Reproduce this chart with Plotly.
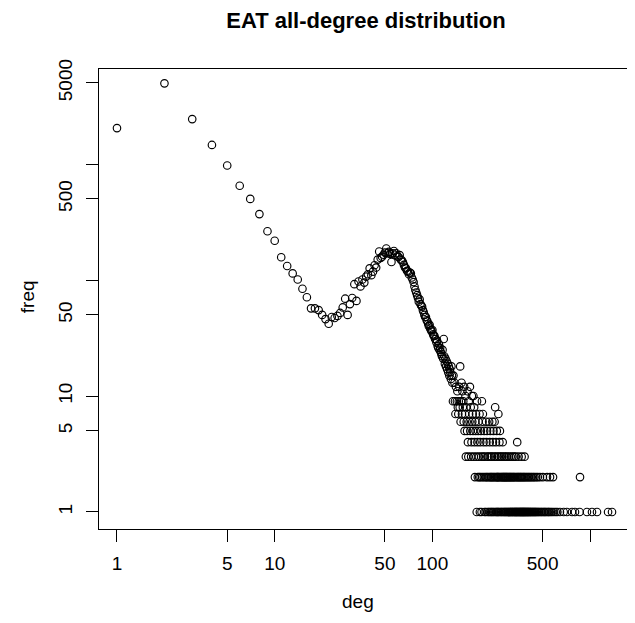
import plotly.graph_objects as go

# ---- data (degree -> frequency) ----
deg_low = list(range(1, 19))
freq_low = [2040, 4960, 2440, 1460, 970, 650, 500, 370, 263, 218,
            157, 132, 114, 101, 84, 71, 57, 57]

deg_mid = list(range(19, 135))
freq_mid = [55, 50, 46, 42, 48, 47, 49, 52, 58, 69,
            50, 62, 70, 92, 66, 97, 88, 101, 95, 107,
            112, 126, 110, 118, 134, 128, 150, 176, 155, 159,
            165, 172, 187, 170, 175, 168, 143, 170, 178, 165,
            170, 160, 158, 164, 150, 148, 143, 135, 128, 126,
            120, 118, 112, 116, 114, 105, 101, 96, 88, 82,
            78, 74, 70, 65, 68, 62, 60, 59, 55, 53,
            50, 48, 48, 45, 44, 42, 40, 41, 38, 37,
            36, 37, 34, 33, 33, 31, 31, 29, 30, 27,
            26, 28, 25, 26, 24, 23, 22, 25, 21, 31,
            22, 19, 21, 18, 20, 17, 19, 16, 18, 15,
            17, 16, 14, 18, 15, 13]

deg_desc = [136, 138, 141, 144, 148, 150, 153, 155, 159, 162, 167, 173, 178, 182]
freq_desc = [15, 13, 12, 11, 12, 18, 13, 11, 12, 10, 11, 12, 10, 10]

deg_f9 = [135, 139, 143, 147, 152, 157, 170, 192, 206]
deg_f8 = [145, 149, 156, 164, 175, 184, 250]
deg_f7 = [140, 146, 154, 161, 171, 180, 189, 199, 209, 262]
deg_f6 = [151, 158, 165, 172, 179, 187, 196, 208, 219, 229, 240, 248]
deg_f5 = [160, 166, 174, 181, 188, 195, 203, 213, 222, 233, 244, 256, 268]
deg_f4 = [168, 177, 185, 193, 201, 211, 220, 231, 242, 253, 266, 279, 345]
deg_f3 = [163, 169, 176, 183, 190, 197, 204, 210, 215, 223, 227, 235, 238,
          246, 251, 258, 264, 271, 276, 284, 290, 297, 305, 313, 322, 330,
          338, 352, 368, 384]
deg_f2 = [186, 194, 198, 202, 207, 212, 217, 221, 225, 230, 234, 237, 241,
          245, 249, 254, 257, 260, 263, 267, 272, 275, 280, 282, 286, 289,
          293, 296, 300, 304, 308, 311, 316, 320, 325, 329, 334, 340, 346,
          350, 356, 361, 366, 372, 378, 383, 390, 397, 404, 411, 419, 427,
          436, 444, 455, 466, 481, 502, 533, 557, 582, 863]
deg_f1 = [191, 200, 205, 214, 218, 224, 228, 232, 236, 239, 243, 247, 252,
          255, 259, 261, 265, 270, 273, 277, 281, 285, 288, 292, 295, 299,
          302, 306, 309, 312, 315, 318, 321, 324, 327, 331, 333, 336, 339,
          342, 344, 348, 351, 354, 357, 360, 363, 365, 369, 371, 374, 377,
          380, 382, 386, 389, 392, 395, 399, 402, 406, 409, 413, 417, 421,
          425, 430, 434, 439, 443, 448, 452, 458, 463, 470, 475, 484, 490,
          497, 506, 512, 520, 527, 538, 545, 552, 564, 575, 590, 605, 620,
          644, 680, 713, 768, 802, 858, 955, 1028, 1106, 1300, 1377]

x_tickvals = [1, 5, 10, 50, 100, 500, 1000]
x_ticktext = ["1", "5", "10", "50", "100", "500", ""]
y_tickvals = [1, 5, 10, 50, 100, 500, 1000, 5000]
y_ticktext = ["1", "5", "10", "50", "", "500", "", "5000"]

# ---- assemble ----
deg = deg_low + deg_mid + deg_desc
freq = freq_low + freq_mid + freq_desc
for level, lst in [(9, deg_f9), (8, deg_f8), (7, deg_f7), (6, deg_f6), (5, deg_f5),
                   (4, deg_f4), (3, deg_f3), (2, deg_f2), (1, deg_f1)]:
    deg += lst
    freq += [level] * len(lst)

FONT = "Liberation Sans, Arial, Helvetica, sans-serif"

fig = go.Figure()
fig.add_trace(go.Scatter(
    x=deg, y=freq, mode="markers",
    marker=dict(symbol="circle-open", size=7.5, color="#000000",
                line=dict(width=1.15, color="#000000")),
    showlegend=False, hoverinfo="x+y"))

axis_common = dict(
    type="log", showgrid=False, zeroline=False,
    showline=True, linecolor="#000000", linewidth=1, mirror=True,
    ticks="outside", ticklen=12, tickwidth=1, tickcolor="#000000",
    tickfont=dict(family=FONT, size=19, color="#000000"),
)

fig.update_xaxes(range=[-0.114, 3.272], tickvals=x_tickvals, ticktext=x_ticktext,
                 ticklabelstandoff=5, **axis_common)
fig.update_yaxes(range=[-0.1466, 3.819], tickvals=y_tickvals, ticktext=y_ticktext,
                 tickangle=-90, ticklabelstandoff=6, **axis_common)

# the page body has an 8px margin, so the layout is shifted up/left by 8px
fig.update_layout(
    width=635, height=623,
    margin=dict(l=91, r=10, t=61, b=102, autoexpand=False),
    paper_bgcolor="white", plot_bgcolor="white",
    font=dict(family=FONT, color="#000000"),
    title=dict(text="<b>EAT all-degree distribution</b>",
               font=dict(family=FONT, size=22, color="#000000"),
               x=0.5, xref="paper", xanchor="center",
               y=1 - 12 / 623, yref="container", yanchor="middle"),
    annotations=[
        dict(text="deg", x=0.485, xref="paper", y=0, yref="paper",
             yshift=-72, xanchor="center", yanchor="middle", showarrow=False,
             font=dict(family=FONT, size=19, color="#000000")),
        dict(text="freq", x=0, xref="paper", y=0.504, yref="paper",
             xshift=-72, xanchor="center", yanchor="middle", textangle=-90,
             showarrow=False, font=dict(family=FONT, size=19, color="#000000")),
    ],
)

fig.write_html("out.html")
